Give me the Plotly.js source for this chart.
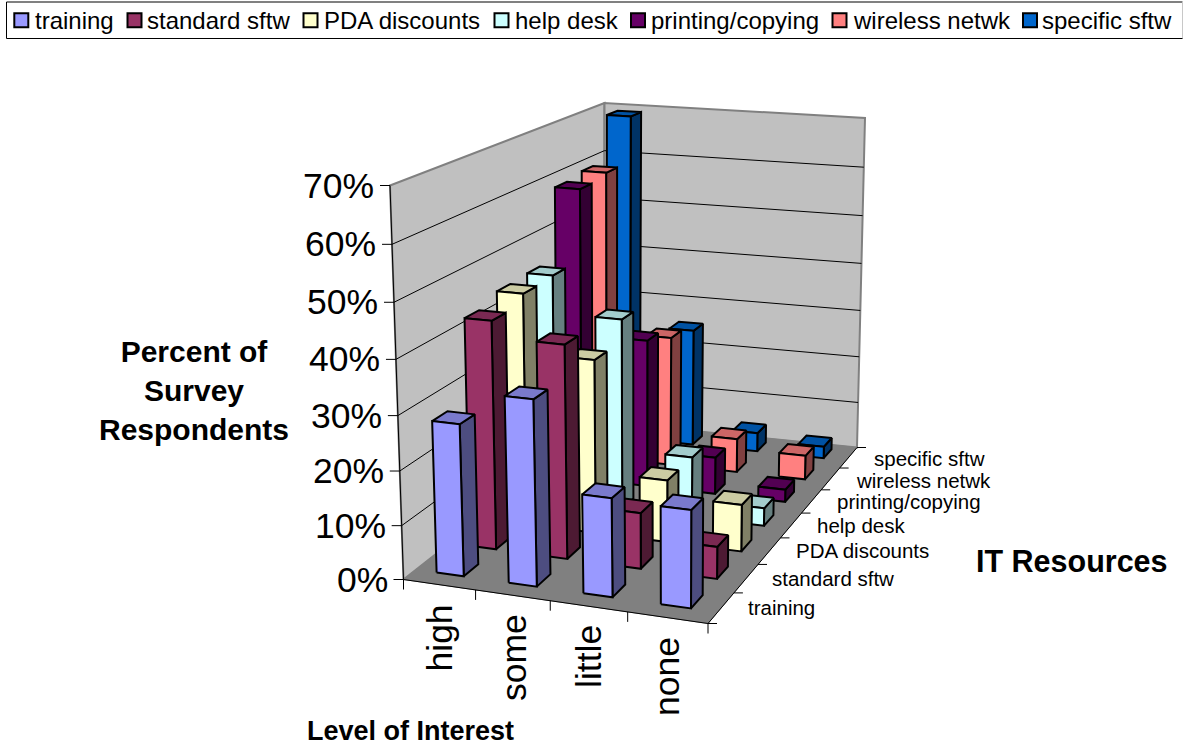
<!DOCTYPE html>
<html><head><meta charset="utf-8">
<script src="https://cdn.plot.ly/plotly-3.0.0.min.js"></script>
<style>html,body{margin:0;padding:0;background:#fff}#c{width:1183px;height:746px}</style>
</head><body><div id="c"></div>
<script>
// ---- data ----
const levels = ["high","some","little","none"];
const resources = ["training","standard sftw","PDA discounts","help desk","printing/copying","wireless netwk","specific sftw"];
const training  = [28,34,18,17.7];
const standard  = [43,40,10.5,6];
const pda       = [44.7,33.5,12,9];
const helpdesk  = [45,37.7,12,3.5];
const printing  = [59,30,7.5,2.5];
const wireless  = [59.8,27,7,5];
const specific  = [69,25,4,2.5];
const yTicks = [0,10,20,30,40,50,60,70];
const frontColors = ["#9999FF","#993366","#FFFFCC","#CCFFFF","#660066","#FF8080","#0066CC"];
const sideColors  = ["#4D4D80","#4D1A33","#808066","#668080","#330033","#804040","#003366"];
const topColors   = ["#7A7ACC","#7A2952","#CCCCA3","#A3CCCC","#520052","#CC6666","#0052A3"];
const legendMarkX = [21.3,134.5,310.5,501.5,638,839.5,1030];
const legendTextX = [35,147,324,515,651,853,1042];

// ---- projection fitted to the box corners of the picture ----
function gauss(A,b){const n=b.length;A=A.map((r,i)=>[...r,b[i]]);
  for(let i=0;i<n;i++){let p=i;for(let k=i+1;k<n;k++)if(Math.abs(A[k][i])>Math.abs(A[p][i]))p=k;[A[i],A[p]]=[A[p],A[i]];
    for(let k=0;k<n;k++){if(k===i)continue;const f=A[k][i]/A[i][i];for(let j=i;j<=n;j++)A[k][j]-=f*A[i][j];}}
  return A.map((r,i)=>r[n]/r[i]);}
function homography(c){const M=[],R=[];
  c.forEach(([u,v,x,y])=>{M.push([u,v,1,0,0,0,-u*x,-v*x]);R.push(x);M.push([0,0,0,u,v,1,-u*y,-v*y]);R.push(y);});
  const q=gauss(M,R);
  return (u,v)=>{const w=q[6]*u+q[7]*v+1;return [(q[0]*u+q[1]*v+q[2])/w,(q[3]*u+q[4]*v+q[5])/w];};}
const floorH=homography([[0,0,403.5,579.5],[1,0,708,623.5],[1,1,857,447.5],[0,1,604,422]]);
const topH=homography([[0,0,390,185.5],[1,0,710,212.5],[1,1,865,118],[0,1,604.5,103]]);
const ZMAX=70;
function P(u,v,z){const t=z/ZMAX,f=t/(t+(1-t)*1.053),a=floorH(u,v),b=topH(u,v);
  return [a[0]+(b[0]-a[0])*f,a[1]+(b[1]-a[1])*f];}

// ---- drawing helpers ----
const traces=[];
function poly(pts,fill,line,lw){const xs=pts.map(p=>p[0]),ys=pts.map(p=>p[1]);xs.push(xs[0]);ys.push(ys[0]);
  traces.push({type:'scatter',mode:'lines',x:xs,y:ys,fill:'toself',fillcolor:fill,line:{color:line,width:lw},hoverinfo:'skip',showlegend:false});}
function seg(a,b,color,lw){traces.push({type:'scatter',mode:'lines',x:[a[0],b[0]],y:[a[1],b[1]],line:{color:color,width:lw},hoverinfo:'skip',showlegend:false});}

// legend frame
seg([6.5,2],[1182.5,2],'#808080',2);
seg([1182.5,2],[1182.5,38.5],'#C8C8C8',1);
seg([6.5,2],[6.5,38.5],'#000',1);
seg([6.5,38.5],[1182.5,38.5],'#000',1);

// walls and floor
poly([P(0,0,0),P(0,1,0),P(0,1,ZMAX),P(0,0,ZMAX)],'#C0C0C0','#808080',2);
poly([P(0,1,0),P(1,1,0),P(1,1,ZMAX),P(0,1,ZMAX)],'#C0C0C0','#808080',2);
poly([P(0,0,0),P(1,0,0),P(1,1,0),P(0,1,0)],'#808080','#808080',1);
// gridlines
yTicks.forEach(z=>{ if(z===0||z>=ZMAX) return; seg(P(0,0,z),P(0,1,z),'#000',1);seg(P(0,1,z),P(1,1,z),'#000',1); });
// axes + ticks
seg(P(0,0,0),P(0,0,ZMAX),'#000',1);
seg(P(0,0,0),P(1,0,0),'#000',1);
seg(P(1,0,0),P(1,1,0),'#000',1);
yTicks.forEach(z=>{const p=P(0,0,z);seg(p,[p[0]-10,p[1]],'#000',1);});
levels.concat(['']).forEach((_,i)=>{const p=P(i/levels.length,0,0);seg(p,[p[0],p[1]+10],'#000',1);});
resources.concat(['']).forEach((_,i)=>{const p=P(1,i/resources.length,0);seg(p,[p[0]+9,p[1]],'#000',1);});

// bars, far row first, left to right
const series=[training,standard,pda,helpdesk,printing,wireless,specific];
const UOFF=0.29, BW=0.38, BD=0.44, VOFF=0.36;
for(let s=series.length-1;s>=0;s--){
  for(let c=0;c<levels.length;c++){
    const z=series[s][c];
    const u0=(c+UOFF)/levels.length,u1=(c+UOFF+BW)/levels.length;
    const v0=(s+VOFF)/resources.length,v1=(s+VOFF+BD)/resources.length;
    poly([P(u1,v0,0),P(u1,v1,0),P(u1,v1,z),P(u1,v0,z)],sideColors[s],'#000',2);
    poly([P(u0,v0,z),P(u1,v0,z),P(u1,v1,z),P(u0,v1,z)],topColors[s],'#000',2);
    poly([P(u0,v0,0),P(u1,v0,0),P(u1,v0,z),P(u0,v0,z)],frontColors[s],'#000',2);
  }
}

// legend symbols
resources.forEach((r,i)=>{traces.push({type:'scatter',mode:'markers',name:r,x:[legendMarkX[i]],y:[20.3],
  marker:{symbol:'square',size:14,color:frontColors[i],line:{color:'#000',width:2}},hoverinfo:'skip',showlegend:false});});

const F="Liberation Sans, Arial, sans-serif";
const ann=[];
function text(t,x,y,size,o){ann.push(Object.assign({text:t,x:x,y:y,xref:'x',yref:'y',showarrow:false,font:{family:F,size:size,color:'#000'},xanchor:'left',yanchor:'middle',borderpad:0,borderwidth:0},o||{}));}
resources.forEach((r,i)=>text(r,legendTextX[i],20.5,24));
yTicks.forEach(z=>{const p=P(0,0,z);text(z+'%',p[0]-16,p[1],35.5,{xanchor:'right'});});
const levelX=[439,514,589,667], levelY=[605,614.5,625.5,637.5];
levels.forEach((l,i)=>text(l,levelX[i],levelY[i],35.5,{textangle:-90,xanchor:'center',yanchor:'top'}));
const resX=[748,772,796,817,837,856,874], resY=[607,578,550,525,501,480,458];
resources.forEach((r,i)=>text(r,resX[i],resY[i],20.5));
function bold(){ann[ann.length-1].font.weight='bold';}
text('Percent of<br>Survey<br>Respondents',194,390,30,{xanchor:'center',align:'center'});bold();
text('IT Resources',1071.5,561,30.5,{xanchor:'center'});bold();
text('Level of Interest',410,730.5,27,{xanchor:'center'});bold();

const layout={width:1183,height:746,margin:{l:0,r:0,t:0,b:0},paper_bgcolor:'#fff',plot_bgcolor:'#fff',hovermode:false,showlegend:false,
  xaxis:{range:[0,1183],visible:false,fixedrange:true},yaxis:{range:[746,0],visible:false,fixedrange:true},
  annotations:ann};
Plotly.newPlot('c',traces,layout,{displayModeBar:false,staticPlot:true});
</script></body></html>
